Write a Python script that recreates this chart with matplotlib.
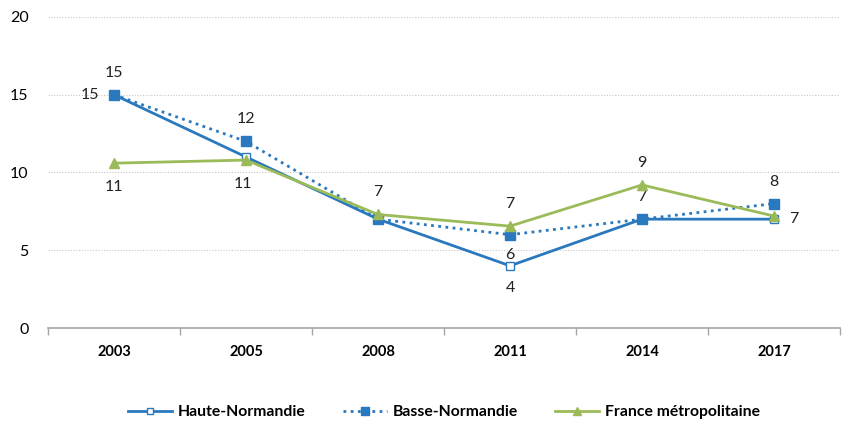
import numpy as np
import matplotlib.pyplot as plt

plt.rcParams['font.family'] = ['Lato', 'DejaVu Sans']

years = ["2003", "2005", "2008", "2011", "2014", "2017"]
haute = [15, 11, 7, 4, 7, 7]
basse = [15, 12, 7, 6, 7, 8]
france = [10.6, 10.8, 7.3, 6.55, 9.2, 7.2]

blue = "#2a78bd"
green = "#9bbb59"

fig = plt.figure(figsize=(8.48, 4.23), dpi=100)
ax = fig.add_axes([48 / 848, 1 - 328 / 423, 792 / 848, 311 / 423])

x = np.arange(len(years))

ax.plot(x, haute, color=blue, lw=2.0, marker="s", ms=6,
        mfc="white", mec=blue, mew=1.0, label="Haute-Normandie", zorder=3)
ax.plot(x, basse, color=blue, lw=2.0, ls=(0, (1, 1.6)), marker="s", ms=7,
        mfc=blue, mec=blue, label="Basse-Normandie", zorder=4)
ax.plot(x, france, color=green, lw=2.0, marker="^", ms=7,
        mfc=green, mec=green, label="France métropolitaine", zorder=5)

# data labels: (series, index, dx px, dy px)
lab_kw = dict(fontsize=11.5, color="#222222", ha="center", va="center")
def put(vals, i, dx, dy):
    ax.annotate(f"{vals[i]:.0f}", (x[i], vals[i]), xytext=(dx, dy),
                textcoords="offset pixels", **lab_kw)

put(haute, 0, -24, 0)
put(basse, 0, 0, 22)
put(france, 0, 0, -24)
put(basse, 1, 0, 22)
put(france, 1, -3, -24)
put(france, 2, 0, 22)
put(france, 3, 0, 22)
put(basse, 3, 0, -20)
put(haute, 3, 0, -22)
put(france, 4, 0, 22)
put(basse, 4, 0, 22)
put(basse, 5, 0, 22)
put(haute, 5, 20, 0)

ax.set_xlim(-0.5, len(years) - 0.5)
ax.set_ylim(0, 20)
ax.set_yticks([0, 5, 10, 15, 20])
ax.set_xticks(x)
ax.set_xticklabels(years, fontweight="bold", fontsize=10.5)
ax.set_xticks(np.arange(-0.5, len(years)), minor=True)
ax.tick_params(axis="x", which="major", length=0, pad=12)
ax.tick_params(axis="x", which="minor", length=5, color="#a6a6a6", width=1)
ax.tick_params(axis="y", length=0, labelsize=11.5, pad=14)

for v in [5, 10, 15, 20]:
    ax.axhline(v, color="#c8c8c8", lw=0.8, ls=(0, (1, 1.5)), zorder=0)

for s in ["top", "right", "left"]:
    ax.spines[s].set_visible(False)
ax.spines["bottom"].set_color("#a6a6a6")
ax.spines["bottom"].set_linewidth(1.2)

fig.legend(loc="center", bbox_to_anchor=(444 / 848, 1 - 412 / 423), ncol=3,
           frameon=False, prop={"weight": "bold", "size": 11.3},
           handlelength=2.8, columnspacing=2.4, handletextpad=0.35,
           markerscale=0.75)

fig.savefig("out.png", dpi=100)
